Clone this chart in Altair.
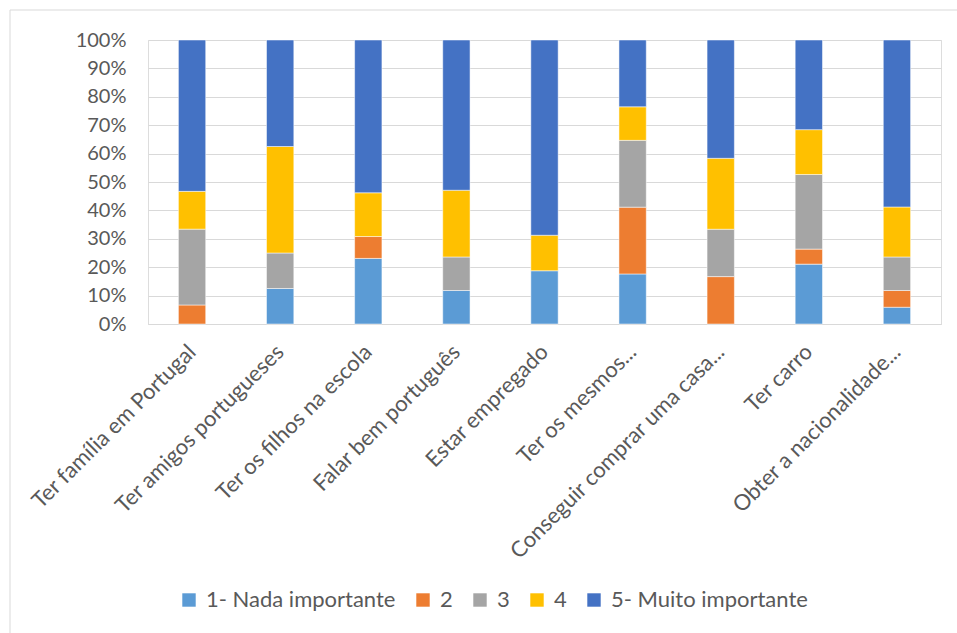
import altair as alt
import pandas as pd

categories = [
    "Ter família em Portugal",
    "Ter amigos portugueses",
    "Ter os filhos na escola",
    "Falar bem português",
    "Estar empregado",
    "Ter os mesmos...",
    "Conseguir comprar uma casa...",
    "Ter carro",
    "Obter a nacionalidade...",
]
series_names = ["1- Nada importante", "2", "3", "4", "5- Muito importante"]
s1 = [0, 12.5, 23.1, 11.8, 18.75, 17.6, 0, 21.1, 5.9]
s2 = [6.7, 0, 7.7, 0, 0, 23.5, 16.7, 5.3, 5.9]
s3 = [26.7, 12.5, 0, 11.8, 0, 23.5, 16.7, 26.3, 11.8]
s4 = [13.3, 37.5, 15.4, 23.5, 12.5, 11.8, 25.0, 15.8, 17.6]
s5 = [53.3, 37.5, 53.8, 52.9, 68.75, 23.5, 41.7, 31.6, 58.8]
colors = ["#5B9BD5", "#ED7D31", "#A5A5A5", "#FFC000", "#4472C4"]
y_ticks = [0, 0.1, 0.2, 0.3, 0.4, 0.5, 0.6, 0.7, 0.8, 0.9, 1.0]

rows = []
for si, (name, vals) in enumerate(zip(series_names, [s1, s2, s3, s4, s5])):
    for c, v in zip(categories, vals):
        rows.append({"cat": c, "series": name, "idx": si, "value": v})
df = pd.DataFrame(rows)

FONT = "Lato"
FS_Y = 20
FS = 22
TXT = "#595959"

bars = alt.Chart(df).transform_filter("datum.value > 0").mark_bar(
    stroke="white", strokeWidth=0.5
).encode(
    x=alt.X("cat:N", sort=categories, title=None,
            scale=alt.Scale(paddingInner=0.69, paddingOuter=0.345),
            axis=alt.Axis(labelAngle=-45, labelFontSize=FS, labelColor=TXT, labelFont=FONT,
                          ticks=False, domain=True, domainColor="#D9D9D9", domainWidth=1,
                          grid=False, labelPadding=17, labelOffset=-7, labelLimit=400)),
    y=alt.Y("value:Q", stack="normalize", title=None,
            scale=alt.Scale(domain=[0, 1]),
            axis=alt.Axis(values=y_ticks, format=".0%", labelFontSize=FS_Y, labelColor=TXT,
                          labelFont=FONT, ticks=False, domain=False, grid=True,
                          gridColor="#D9D9D9", gridWidth=1, labelPadding=22)),
    color=alt.Color("series:N", sort=series_names,
                    scale=alt.Scale(domain=series_names, range=colors),
                    legend=alt.Legend(title=None, orient="none", direction="horizontal",
                                      legendX=30, legendY=549, symbolType="square",
                                      symbolSize=180, symbolStrokeWidth=0, labelFontSize=FS,
                                      labelFont=FONT, labelColor=TXT, labelOffset=6,
                                      columnPadding=16, labelLimit=400)),
    order=alt.Order("idx:Q", sort="ascending"),
)

frame_df = pd.DataFrame({"k": [0]})
top_border = alt.Chart(frame_df).mark_rule(color="#D9D9D9", strokeWidth=1).encode(
    x=alt.value(-138), x2=alt.value(809), y=alt.value(-30))
left_border = alt.Chart(frame_df).mark_rule(color="#D9D9D9", strokeWidth=1).encode(
    x=alt.value(-138), y=alt.value(-30), y2=alt.value(593))

chart = alt.layer(top_border, left_border, bars).properties(
    width=793, height=284,
    autosize=alt.AutoSizeParams(type="none"),
    padding={"left": 148, "top": 40, "right": 16, "bottom": 309},
).configure_view(stroke=None).configure(background="white")

chart.save("out.html", embed_options={"renderer": "svg", "actions": False})
